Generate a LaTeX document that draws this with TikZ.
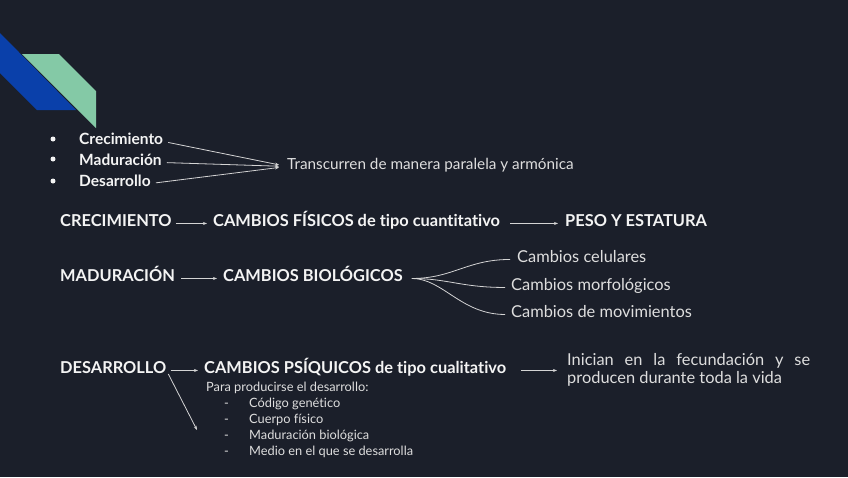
\documentclass[tikz,border=0pt]{standalone}
\usepackage{fontspec}
\setmainfont{Lato}[Ligatures=NoCommon]
\usetikzlibrary{arrows.meta}
\definecolor{bgnavy}{HTML}{1B1F2A}
\definecolor{txtwhite}{HTML}{F4F4F4}
\definecolor{txtgray}{HTML}{DEDEDE}
\definecolor{lnclr}{HTML}{D4D4D4}
\definecolor{barblue}{HTML}{0A40AA}
\definecolor{bargreen}{HTML}{84C9A6}

\begin{document}
\begin{tikzpicture}[x=1pt,y=-1pt,>={Stealth[length=4pt,width=3pt]},
  every node/.style={anchor=base west,inner sep=0pt},
  bul/.style={circle,fill=txtwhite,inner sep=0pt,minimum size=5pt,anchor=center},
  itm/.style={text=txtwhite,font=\fontsize{15.5}{17}\selectfont\bfseries},
  head/.style={text=txtwhite,font=\fontsize{16.4}{18}\selectfont\bfseries},
  plain/.style={text=txtgray,font=\fontsize{16.4}{18}\selectfont},
  small/.style={text=txtgray,font=\fontsize{12.8}{14}\selectfont},
  conn/.style={draw=lnclr,line width=0.8pt}]
% Background
\fill[bgnavy] (0,0) rectangle (848,477);
\useasboundingbox (0,0) rectangle (848,477);

% Corner bars
\fill[barblue] (0,33) -- (0,73) -- (37,110) -- (76,110) -- cycle;
\fill[bargreen] (22,54) -- (59,54) -- (96,91) -- (96,128) -- cycle;

% Bullet list
\node[bul] (b1) at (53,139) {};
\node[bul] (b2) at (53,159) {};
\node[bul] (b3) at (53,181) {};
\node[itm] (crec) at (79,144) {Crecimiento};
\node[itm] (madu) at (79,165) {Maduración};
\node[itm] (desa) at (79,186) {Desarrollo};
\node[plain,font=\fontsize{15.3}{17}\selectfont] (trans) at (287,169) {Transcurren de manera paralela y armónica};
\draw[conn,->,shorten <=5pt,shorten >=8pt] (crec.mid east) -- (trans.mid west);
\draw[conn,->,shorten <=5pt,shorten >=8pt] (madu.mid east) -- (trans.mid west);
\draw[conn,->,shorten <=5pt,shorten >=8pt] (desa.mid east) -- (trans.mid west);

% Crecimiento
\node[head] (crecT) at (60,226) {CRECIMIENTO};
\node[head] (fis) at (213,226) {CAMBIOS FÍSICOS de tipo cuantitativo};
\node[head] (peso) at (565,226) {PESO Y ESTATURA};
\draw[conn,->,shorten <=4pt,shorten >=6pt] (crecT.mid east) -- (fis.mid west);
\draw[conn,->,shorten <=10pt,shorten >=7pt] (fis.mid east) -- (peso.mid west);

% Maduracion
\node[head] (madT) at (60,281) {MADURACIÓN};
\node[head] (bio) at (223,281) {CAMBIOS BIOLÓGICOS};
\draw[conn,->,shorten <=6pt,shorten >=6pt] (madT.mid east) -- (bio.mid west);
\node[plain] (cel) at (517,262) {Cambios celulares};
\node[plain] (morf) at (511,290) {Cambios morfológicos};
\node[plain] (mov) at (511,317) {Cambios de movimientos};
\draw[conn,shorten <=9pt,shorten >=7pt] (bio.mid east) .. controls +(50,0) and +(-50,0) .. (cel.mid west);
\draw[conn,shorten <=9pt,shorten >=6pt] (bio.mid east) .. controls +(45,0) and +(-50,0) .. (morf.mid west);
\draw[conn,shorten <=9pt,shorten >=6pt] (bio.mid east) .. controls +(40,0) and +(-50,0) .. (mov.mid west);

% Desarrollo
\node[head] (desT) at (60,373) {DESARROLLO};
\node[head] (psi) at (204,373) {CAMBIOS PSÍQUICOS de tipo cualitativo};
\node[plain,align=left] (ini) at (567,383) {\makebox[243pt][s]{Inician en la fecundación y se}\\producen durante toda la vida};
\coordinate (tip) at (197,430);
\draw[conn,->,shorten <=4pt,shorten >=6pt] (desT.mid east) -- (psi.mid west);
\draw[conn,->,shorten <=4pt] (desT.mid east) -- (tip);
\draw[conn,->,shorten <=15pt,shorten >=10pt] (psi.mid east) -- (ini.mid west |- psi.mid east);

% Requisitos
\node[small] (para) at (206,391) {Para producirse el desarrollo:};
\node[small] (d1) at (224,407) {-};
\node[small] (d2) at (224,423) {-};
\node[small] (d3) at (224,439) {-};
\node[small] (d4) at (224,455) {-};
\node[small] (r1) at (249,407) {Código genético};
\node[small] (r2) at (249,423) {Cuerpo físico};
\node[small] (r3) at (249,439) {Maduración biológica};
\node[small] (r4) at (249,455) {Medio en el que se desarrolla};
\end{tikzpicture}
\end{document}
